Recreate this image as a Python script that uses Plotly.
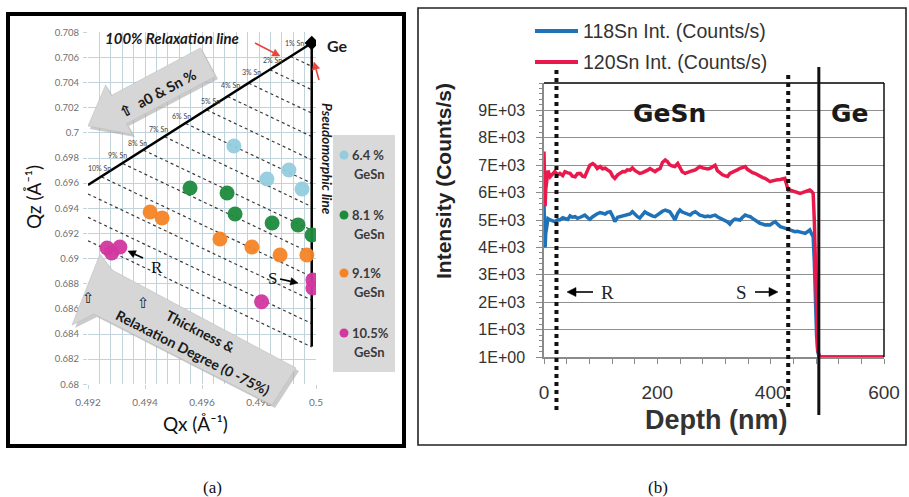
import math
import plotly.graph_objects as go

W, H = 909, 497
def PX(x): return x / W
def PY(y): return 1 - y / H

# ---------------- Panel (a) data: Qx / Qz reciprocal-space points ----------------
qx_64 = [0.49712, 0.49828, 0.49905, 0.49951]
qz_64 = [0.69896, 0.69633, 0.69705, 0.69554]
qx_81 = [0.49558, 0.49688, 0.49716, 0.49846, 0.49937, 0.49986]
qz_81 = [0.69562, 0.69522, 0.69355, 0.69283, 0.69268, 0.69188]
qx_91 = [0.49418, 0.49460, 0.49663, 0.49775, 0.49874, 0.49968]
qz_91 = [0.69371, 0.69323, 0.69156, 0.69092, 0.69029, 0.69029]
qx_105 = [0.49267, 0.49312, 0.49283, 0.49809, 0.49989, 0.49989]
qz_105 = [0.69084, 0.69092, 0.69044, 0.68657, 0.68830, 0.68766]

relax_qx = [0.492, 0.49985]
relax_qz = [0.69586, 0.70715]
pseudo_qx = [0.49985, 0.49985]
pseudo_qz = [0.70715, 0.6830]
ge_qx = [0.49985]
ge_qz = [0.70715]

sn_pct = [1, 2, 3, 4, 5, 6, 7, 8, 9, 10, 11, 12, 13]
iso_x0 = [0.49911, 0.49838, 0.49764, 0.49690, 0.49617, 0.49543, 0.49469,
          0.49395, 0.49322, 0.49248, 0.492, 0.492, 0.492]
iso_y0 = [0.70608, 0.70502, 0.70395, 0.70289, 0.70182, 0.70075, 0.69969,
          0.69862, 0.69756, 0.69649, 0.69514, 0.69328, 0.69142]
iso_x1 = [0.49985] * 13
iso_y1 = [0.70529, 0.70343, 0.70157, 0.69971, 0.69785, 0.69599, 0.69413,
          0.69227, 0.69041, 0.68855, 0.68669, 0.68483, 0.68297]

a_xticks = [0.492, 0.494, 0.496, 0.498, 0.5]
a_xtext = ["0.492", "0.494", "0.496", "0.498", "0.5"]
a_yticks = [0.68, 0.682, 0.684, 0.686, 0.688, 0.69, 0.692, 0.694, 0.696,
            0.698, 0.7, 0.702, 0.704, 0.706, 0.708]
a_ytext = ["0.68", "0.682", "0.684", "0.686", "0.688", "0.69", "0.692", "0.694",
           "0.696", "0.698", "0.7", "0.702", "0.704", "0.706", "0.708"]

# ---------------- Panel (b) data: SIMS depth profile ----------------
depth_nm = [0, 1, 2, 3, 5, 7, 11, 15, 19, 24, 28, 33, 37, 42, 46, 50, 55, 59, 64, 68, 72, 77,
            81, 86, 90, 94, 99, 103, 108, 112, 117, 121, 125, 130, 134, 139, 143, 147, 152,
            156, 161, 165, 169, 174, 178, 183, 187, 192, 196, 200, 205, 209, 214, 218, 222,
            227, 231, 236, 240, 244, 249, 253, 258, 262, 267, 271, 275, 280, 284, 289, 293,
            297, 302, 306, 311, 315, 319, 324, 328, 333, 337, 342, 346, 350, 355, 359, 364,
            368, 372, 377, 381, 386, 390, 394, 399, 403, 408, 412, 417, 421, 425, 428, 431,
            434, 439, 443, 447, 452, 456, 461, 465, 469, 472, 475, 477, 479, 481, 483, 485,
            488, 500, 550, 600]
sn120 = [7500, 6500, 5500, 6100, 6650, 6800, 6580, 6700, 6765, 6650, 6700, 6620, 6765, 6720,
         6700, 6600, 6580, 6690, 6700, 6600, 6580, 6820, 7000, 7060, 7000, 6880, 6950, 6870,
         6890, 6830, 6760, 6600, 6520, 6650, 6700, 6770, 6760, 6830, 6820, 6900, 6800, 6740,
         6700, 6730, 6765, 6820, 6880, 6800, 6765, 6830, 6880, 7100, 7190, 7130, 7010, 6970,
         6950, 7060, 6900, 6760, 6700, 6740, 6765, 6800, 6826, 6880, 6950, 6900, 6886, 6860,
         6886, 6950, 7000, 6800, 6700, 6650, 6620, 6590, 6700, 6740, 6790, 6840, 6886, 6920,
         6947, 6850, 6765, 6730, 6704, 6640, 6582, 6550, 6521, 6460, 6400, 6430, 6460, 6470,
         6480, 6500, 6521, 6300, 6095, 6095, 6060, 6034, 6000, 5973, 6000, 6034, 6070, 6095,
         6050, 5973, 5000, 3500, 1500, 300, 80, 1, 1, 1, 1]
sn118 = [5600, 5100, 4000, 4500, 4900, 5050, 5000, 4960, 4940, 5010, 5000, 5080, 5060, 5020,
         5150, 5100, 5120, 5060, 5100, 5150, 5180, 5090, 5025, 5120, 5180, 5230, 5270, 5240,
         5220, 5280, 5300, 5150, 4940, 5100, 5120, 5170, 5180, 5200, 5220, 5300, 5190, 5120,
         5070, 5200, 5300, 5230, 5180, 5140, 5120, 5190, 5240, 5320, 5360, 5320, 5300, 5150,
         5000, 5250, 5360, 5290, 5240, 5200, 5180, 5260, 5300, 5240, 5180, 5150, 5120, 5140,
         5120, 5150, 5180, 5120, 5060, 5030, 5000, 4930, 4850, 4980, 5030, 5020, 5000, 5090,
         5180, 5150, 5120, 5060, 5000, 4940, 4880, 4850, 4818, 4830, 4818, 4880, 4940, 4850,
         4757, 4730, 4696, 4680, 4650, 4635, 4600, 4575, 4590, 4575, 4540, 4514, 4580, 4635,
         4500, 4392, 3500, 2000, 800, 200, 50, 1, 1, 1, 1]
b_yticks = [0, 1000, 2000, 3000, 4000, 5000, 6000, 7000, 8000, 9000]
b_ytext = ["1E+00", "1E+03", "2E+03", "3E+03", "4E+03", "5E+03", "6E+03", "7E+03", "8E+03", "9E+03"]
b_xticks = [0, 200, 400, 600]
layer_bounds_nm = {"R": 22, "S": 431, "Ge": 485}

C_LB, C_GR, C_OR, C_MG = "#93CDDD", "#1E8A3E", "#F58426", "#D2379F"
C_BLUE, C_RED = "#1F72B8", "#E9194B"
GRID_A = "#C3D3DC"

fig = go.Figure()

# iso-composition dotted lines
ix, iy = [], []
for x0, y0, x1, y1 in zip(iso_x0, iso_y0, iso_x1, iso_y1):
    ix += [x0, x1, None]
    iy += [y0, y1, None]
fig.add_trace(go.Scatter(x=ix, y=iy, mode="lines", xaxis="x", yaxis="y",
                         line=dict(color="#3a3a3a", width=1.2, dash="dot"),
                         showlegend=False, hoverinfo="skip"))
fig.add_trace(go.Scatter(x=relax_qx, y=relax_qz, mode="lines", xaxis="x", yaxis="y",
                         line=dict(color="black", width=2.5), showlegend=False))
fig.add_trace(go.Scatter(x=pseudo_qx, y=pseudo_qz, mode="lines", xaxis="x", yaxis="y",
                         line=dict(color="black", width=2.5), showlegend=False))
fig.add_trace(go.Scatter(x=ge_qx, y=ge_qz, mode="markers", xaxis="x", yaxis="y",
                         marker=dict(color="black", size=11, symbol="diamond"), showlegend=False))
for qx, qz, c, nm in [(qx_64, qz_64, C_LB, "6.4 % GeSn"), (qx_81, qz_81, C_GR, "8.1 % GeSn"),
                      (qx_91, qz_91, C_OR, "9.1% GeSn"), (qx_105, qz_105, C_MG, "10.5% GeSn")]:
    fig.add_trace(go.Scatter(x=qx, y=qz, mode="markers", xaxis="x", yaxis="y", name=nm,
                             marker=dict(color=c, size=15, opacity=0.95, line=dict(width=0)),
                             showlegend=False))

# panel (b) traces
fig.add_trace(go.Scatter(x=depth_nm, y=sn118, mode="lines", xaxis="x2", yaxis="y2",
                         name="118Sn Int. (Counts/s)", line=dict(color=C_BLUE, width=3.5),
                         showlegend=False))
fig.add_trace(go.Scatter(x=depth_nm, y=sn120, mode="lines", xaxis="x2", yaxis="y2",
                         name="120Sn Int. (Counts/s)", line=dict(color=C_RED, width=3.5),
                         showlegend=False))

LATO = "Lato"
ARIAL = "Liberation Sans"

fig.update_layout(
    width=W, height=H, margin=dict(l=0, r=0, t=0, b=0, autoexpand=False),
    paper_bgcolor="white", plot_bgcolor="white", showlegend=False,
    xaxis=dict(domain=[PX(88), PX(316)], range=[0.492, 0.5], anchor="y", automargin=False,
               tickvals=a_xticks, ticktext=a_xtext, showgrid=True, gridcolor=GRID_A,
               gridwidth=1, zeroline=False, showline=False, ticks="outside", ticklen=4,
               tickcolor=GRID_A, ticklabelstandoff=5,
               tickfont=dict(family=LATO, size=10, color="#707070"),
               minor=dict(dtick=0.0004, tick0=0.492, showgrid=True, gridcolor=GRID_A,
                          gridwidth=1)),
    yaxis=dict(domain=[PY(384.3), PY(32.3)], range=[0.68, 0.708], anchor="x", automargin=False,
               tickvals=a_yticks, ticktext=a_ytext, showgrid=True, gridcolor=GRID_A,
               gridwidth=1, zeroline=False, showline=False, ticks="outside", ticklen=4,
               tickcolor=GRID_A, ticklabelstandoff=2,
               tickfont=dict(family=LATO, size=9.5, color="#707070")),
    xaxis2=dict(domain=[PX(544), PX(884)], range=[0, 600], anchor="y2", automargin=False,
                tickvals=b_xticks, showgrid=False, zeroline=False, showline=True,
                linecolor="#8a8a8a", linewidth=1.5, ticks="outside", ticklen=5,
                tickcolor="#8a8a8a", tickwidth=1.3, ticklabelstandoff=12,
                tickfont=dict(family=ARIAL, size=19, color="#333"),
                minor=dict(dtick=40, tick0=0, ticks="outside", ticklen=5,
                           tickcolor="#8a8a8a", tickwidth=1.3, showgrid=False)),
    yaxis2=dict(domain=[PY(357), PY(83)], range=[0, 10000], anchor="x2", automargin=False,
                tickvals=b_yticks, ticktext=b_ytext, showgrid=True, gridcolor="#8f8f8f",
                gridwidth=1.4, zeroline=False, showline=True, linecolor="#8a8a8a",
                linewidth=1.5, ticks="outside", ticklen=6, tickcolor="#8a8a8a",
                tickwidth=1.3, ticklabelstandoff=8,
                tickfont=dict(family=ARIAL, size=16, color="#333"),
                minor=dict(dtick=200, tick0=0, ticks="outside", ticklen=3,
                           tickcolor="#8a8a8a", tickwidth=1, showgrid=False)),
)

shapes = []
def rect(x0, y0, x1, y1, **kw):
    shapes.append(dict(type="rect", xref="paper", yref="paper", x0=PX(x0), x1=PX(x1),
                       y0=PY(y1), y1=PY(y0), **kw))
def pline(x0, y0, x1, y1, **kw):
    shapes.append(dict(type="line", xref="paper", yref="paper", x0=PX(x0), x1=PX(x1),
                       y0=PY(y0), y1=PY(y1), **kw))
def poly(pts, **kw):
    d = "M " + " L ".join(f"{PX(x):.5f},{PY(y):.5f}" for x, y in pts) + " Z"
    shapes.append(dict(type="path", xref="paper", yref="paper", path=d, **kw))
def arrow(tx, ty, hx, hy, color="black", width=1.5, hl=7.5, hw=3.8):
    dx, dy = hx - tx, hy - ty
    L = math.hypot(dx, dy)
    ux, uy = dx / L, dy / L
    bx, by = hx - ux * hl, hy - uy * hl
    pline(tx, ty, bx, by, line=dict(color=color, width=width))
    poly([(hx, hy), (bx - uy * hw, by + ux * hw), (bx + uy * hw, by - ux * hw)],
         fillcolor=color, line=dict(color=color, width=0.5))

# panel frames
rect(8, 14, 404, 446, line=dict(color="black", width=4), layer="below")
rect(418, 8, 906, 445, line=dict(color="#222", width=1.6), layer="below")

# panel (a) legend box & dots
rect(333, 135, 395, 372, fillcolor="#D9D9D9", line=dict(width=0), layer="below")
for yy, c in [(155, C_LB), (215, C_GR), (273, C_OR), (333, C_MG)]:
    shapes.append(dict(type="circle", xref="paper", yref="paper", x0=PX(339.5), x1=PX(348.5),
                       y0=PY(yy + 4.5), y1=PY(yy - 4.5), fillcolor=c, line=dict(width=0)))

# big grey arrows
poly([(90, 129), (108, 88), (114, 98), (203, 51), (218, 79), (129, 126), (135, 137)],
     fillcolor="#A9A9A9", line=dict(width=0), layer="above", opacity=0.6)
poly([(88, 126), (105.7, 84.9), (111.4, 95.5), (200.5, 47.9), (215.5, 76.2),
      (126.4, 123.7), (132.1, 134.3)],
     fillcolor="#D6D6D6", line=dict(color="#BDBDBD", width=0.6), layer="above")
poly([(102, 257), (115, 273), (299, 371), (275, 408), (97, 317), (75, 328)],
     fillcolor="#A9A9A9", line=dict(width=0), layer="above", opacity=0.6)
poly([(100, 254), (112, 270), (296, 368), (272, 405), (94, 314), (72, 325)],
     fillcolor="#D6D6D6", line=dict(color="#BDBDBD", width=0.6), layer="above")

# panel (b) plot frame top/right
pline(544, 83, 884, 83, line=dict(color="black", width=1.4))
pline(884, 83, 884, 357, line=dict(color="black", width=1.4))

# layer boundaries in (b)
for key, ytop, ybot, dash, wd in [("R", 67, 410, "dot", 4), ("S", 72, 407, "dot", 4),
                                  ("Ge", 67, 415, "solid", 3)]:
    shapes.append(dict(type="line", xref="x2", yref="paper",
                       x0=layer_bounds_nm[key], x1=layer_bounds_nm[key],
                       y0=PY(ybot), y1=PY(ytop),
                       line=dict(color="#111", width=wd, dash=dash)))

# panel (b) legend samples
pline(535, 31, 578, 31, line=dict(color=C_BLUE, width=4))
pline(535, 62, 578, 62, line=dict(color=C_RED, width=4))

# small pointer arrows
arrow(255, 43, 280, 56, color="#E8453C", width=1.6)
arrow(319, 80, 314, 62, color="#E8453C", width=1.6)
arrow(143, 258, 128, 251, width=1.6)
arrow(280, 279, 298, 283, width=1.6)
arrow(593, 292, 567, 292, width=1.6, hl=9, hw=4.5)
arrow(755, 292, 778, 292, width=1.6, hl=9, hw=4.5)

fig.update_layout(shapes=shapes)

anns = []
def txt(x, y, t, size, family=LATO, color="#111", angle=0, xanchor="center",
        yanchor="middle", weight="normal", style="normal"):
    anns.append(dict(x=PX(x), y=PY(y), xref="paper", yref="paper", text=t, showarrow=False,
                     font=dict(family=family, size=size, color=color, weight=weight,
                               style=style),
                     textangle=angle, xanchor=xanchor, yanchor=yanchor))

# panel (a) texts
txt(172, 38, "100% Relaxation line", 15, color="#1a1a1a", weight="bold", style="italic")
txt(337, 45, "Ge", 16, color="#1a1a1a", weight="bold")
txt(327, 159, "Pseudomorphic line", 13.5, color="#1a1a1a", angle=90,
    weight="bold", style="italic")
sn_lab_px = [(294, 43), (272, 60), (251, 72), (230, 85), (210, 101), (181, 116),
             (158, 129), (137, 143), (117, 155), (99, 168)]
for k, (x, y) in zip(sn_pct, sn_lab_px):
    txt(x, y, f"{k}% Sn", 7, color="#444")
txt(157, 93, "\u21e7  a0 &amp; Sn %", 14.5, color="#1a1a1a", angle=-28, weight="bold")
txt(88, 298, "\u21e7", 15, family="DejaVu Sans", color="#222")
txt(143, 303, "\u21e7", 15, family="DejaVu Sans", color="#222")
txt(201, 331, "Thickness &amp;", 14, color="#1a1a1a", angle=27, weight="bold")
txt(193, 352, "Relaxation Degree (0 -75%)", 14, color="#1a1a1a", angle=27, weight="bold")
txt(157, 267, "R", 17, family="Liberation Serif", color="#111")
txt(272, 278, "S", 17, family="Liberation Serif", color="#111")
txt(33, 197, "Qz (Å\u207b\u00b9)", 19, color="#111", angle=-90)
txt(195, 423, "Qx (Å\u207b\u00b9)", 19, color="#111")
for yy, a, b in [(155, "6.4 %", "GeSn"), (215, "8.1 %", "GeSn"),
                 (273, "9.1%", "GeSn"), (333, "10.5%", "GeSn")]:
    txt(350, yy, a, 13, color="#3b3b3b", xanchor="left", weight="bold")
    txt(352, yy + 19, b, 13, color="#3b3b3b", xanchor="left", weight="bold")

# panel (b) texts
txt(581, 31, "118Sn Int. (Counts/s)", 19.5, family=ARIAL, color="#333", xanchor="left")
txt(581, 62, "120Sn Int. (Counts/s)", 19.5, family=ARIAL, color="#333", xanchor="left")
txt(669, 114, "GeSn", 25, family="DejaVu Sans", color="#1a1a1a", weight="bold")
txt(849, 114, "Ge", 25, family="DejaVu Sans", color="#1a1a1a", weight="bold")
txt(443, 181, "Intensity (Counts/s)", 21, family=ARIAL, color="#222", angle=-90, weight="bold")
txt(716, 420, "Depth (nm)", 27, family=ARIAL, color="#333", weight="bold")
txt(607, 292, "R", 19, family="Liberation Serif", color="#222")
txt(741, 292, "S", 19, family="Liberation Serif", color="#222")

# panel captions
txt(212, 487, "(a)", 17, family="Liberation Serif", color="#111")
txt(658, 487, "(b)", 17, family="Liberation Serif", color="#111")

fig.update_layout(annotations=anns)
fig.write_html("out.html", config={"displayModeBar": False},
               post_script="document.body.style.margin='0';document.body.style.overflow='hidden';")
